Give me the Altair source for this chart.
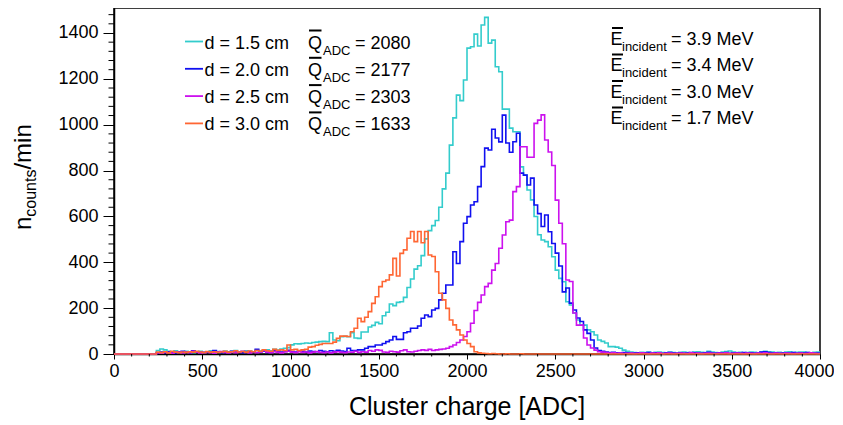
import altair as alt
import pandas as pd

FONT = "Liberation Sans"
X_MAX = 4000
Y_MAX = 1509
BIN = 20

distances = ["1.5", "2.0", "2.5", "3.0"]
q_means = [2080, 2177, 2303, 1633]
energies = ["3.9", "3.4", "3.0", "1.7"]
colors = ["#33CCCC", "#1010F0", "#CC11EE", "#FF6633"]
x_ticks = [0, 500, 1000, 1500, 2000, 2500, 3000, 3500, 4000]
y_ticks = [0, 200, 400, 600, 800, 1000, 1200, 1400]

# counts per 20-ADC bin, bins starting at 0, 20, 40, ... 3980
counts_d15 = [
    0, 0, 0, 0, 0, 0, 0, 0, 0, 0,
    0, 0, 15, 22, 18, 12, 10, 14, 10, 8,
    12, 10, 6, 9, 12, 8, 10, 14, 9, 11,
    8, 13, 10, 12, 15, 9, 11, 14, 12, 10,
    16, 13, 15, 18, 14, 20, 17, 22, 25, 28,
    40, 45, 44, 46, 48, 47, 50, 52, 54, 55,
    54, 93, 61, 58, 75, 77, 75, 93, 70, 68,
    96, 96, 118, 125, 138, 132, 167, 182, 218, 211,
    225, 228, 247, 290, 327, 370, 385, 429, 502, 538,
    560, 582, 640, 720, 789, 911, 1030, 1129, 1105, 1195,
    1334, 1340, 1395, 1343, 1435, 1468, 1356, 1369, 1253, 1231,
    1068, 1068, 985, 969, 969, 816, 780, 715, 672, 600,
    520, 497, 490, 468, 424, 366, 330, 315, 228, 214,
    179, 148, 126, 126, 105, 97, 83, 61, 55, 48,
    32, 32, 30, 25, 17, 12, 8, 6, 5, 7,
    6, 8, 5, 7, 9, 6, 5, 8, 6, 4,
    7, 9, 6, 5, 8, 10, 7, 6, 12, 8,
    6, 5, 9, 11, 13, 8, 6, 7, 5, 6,
    9, 7, 5, 8, 12, 10, 9, 6, 7, 5,
    8, 10, 6, 7, 9, 8, 6, 5, 7, 8,
]
counts_d20 = [
    0, 0, 0, 0, 0, 0, 0, 0, 0, 0,
    0, 0, 5, 8, 6, 10, 7, 5, 9, 12,
    8, 6, 14, 10, 7, 5, 9, 8, 15, 10,
    6, 9, 7, 12, 8, 10, 6, 9, 11, 8,
    20, 10, 12, 7, 9, 14, 10, 8, 12, 16,
    10, 9, 14, 12, 8, 13, 11, 10, 15, 12,
    10, 14, 12, 16, 13, 11, 25, 15, 15, 18,
    18, 25, 32, 32, 39, 39, 46, 54, 61, 76,
    64, 64, 93, 97, 112, 112, 122, 156, 170, 163,
    192, 199, 236, 265, 301, 301, 446, 395, 490, 570,
    599, 650, 664, 730, 817, 898, 890, 980, 942, 925,
    1042, 920, 880, 926, 963, 789, 780, 737, 767, 650,
    612, 556, 606, 533, 482, 440, 384, 271, 288, 222,
    192, 157, 142, 105, 90, 61, 26, 15, 12, 8,
    6, 7, 5, 4, 6, 5, 3, 4, 5, 3,
    4, 6, 3, 5, 4, 2, 5, 6, 4, 3,
    5, 3, 4, 6, 5, 4, 3, 5, 7, 4,
    3, 5, 4, 6, 3, 4, 5, 3, 6, 4,
    5, 3, 4, 8, 10, 6, 4, 5, 3, 4,
    5, 4, 6, 3, 5, 4, 6, 5, 3, 4,
]
counts_d25 = [
    0, 0, 0, 0, 0, 0, 0, 0, 0, 0,
    0, 0, 5, 3, 8, 6, 4, 10, 7, 5,
    9, 6, 12, 8, 5, 7, 10, 6, 4, 8,
    11, 7, 5, 9, 6, 8, 12, 7, 5, 10,
    6, 9, 14, 8, 6, 10, 7, 5, 9, 12,
    8, 6, 10, 7, 9, 5, 8, 11, 7, 6,
    9, 5, 8, 10, 7, 6, 9, 8, 12, 7,
    10, 8, 15, 12, 18, 16, 9, 7, 12, 10,
    8, 14, 18, 10, 9, 12, 15, 18, 16, 20,
    15, 18, 20, 22, 25, 32, 39, 50, 61, 76,
    97, 134, 190, 225, 257, 294, 308, 366, 395, 461,
    519, 577, 584, 708, 730, 904, 904, 858, 858, 1006,
    1020, 1043, 933, 881, 822, 671, 570, 481, 323, 316,
    179, 126, 126, 70, 39, 26, 17, 10, 8, 6,
    4, 5, 3, 4, 2, 3, 4, 2, 3, 5,
    3, 2, 4, 3, 5, 2, 3, 4, 2, 3,
    4, 3, 2, 5, 3, 4, 2, 3, 4, 3,
    2, 4, 3, 5, 2, 3, 4, 3, 2, 4,
    3, 2, 4, 3, 5, 3, 2, 4, 3, 2,
    4, 3, 2, 3, 4, 2, 3, 5, 3, 2,
]
counts_d30 = [
    0, 0, 0, 0, 0, 0, 0, 0, 0, 0,
    0, 0, 8, 6, 10, 5, 12, 8, 6, 9,
    7, 10, 8, 12, 9, 6, 11, 8, 10, 7,
    9, 12, 8, 10, 14, 9, 11, 8, 13, 10,
    15, 12, 18, 14, 12, 20, 16, 18, 15, 39,
    18, 20, 15, 18, 20, 30, 32, 38, 42, 46,
    46, 46, 52, 68, 78, 78, 76, 97, 112, 156,
    141, 160, 185, 221, 250, 294, 316, 323, 345, 417,
    340, 439, 454, 505, 534, 490, 534, 485, 534, 432,
    425, 359, 265, 236, 199, 148, 127, 105, 83, 61,
    46, 32, 10, 5, 3, 2, 1, 2, 1, 0,
    0, 1, 0, 0, 0, 1, 0, 0, 0, 0,
    0, 0, 0, 0, 0, 0, 0, 0, 0, 0,
    0, 0, 0, 0, 0, 0, 0, 0, 0, 0,
    0, 0, 0, 0, 0, 0, 0, 0, 0, 0,
    0, 0, 0, 0, 0, 0, 0, 0, 0, 0,
    0, 0, 0, 0, 0, 0, 0, 0, 0, 0,
    0, 0, 0, 0, 0, 0, 0, 0, 0, 0,
    0, 0, 0, 0, 0, 0, 0, 0, 0, 0,
    0, 0, 0, 0, 0, 0, 0, 0, 0, 0,
]
series_counts = [counts_d15, counts_d20, counts_d25, counts_d30]

rows = []
for label, counts in zip(distances, series_counts):
    for i, c in enumerate(counts):
        rows.append({"d": label, "adc": i * BIN, "n": c})
    rows.append({"d": label, "adc": len(counts) * BIN, "n": counts[-1]})
df = pd.DataFrame(rows)

xs = alt.Scale(domain=[0, X_MAX], nice=False, zero=False)
ys = alt.Scale(domain=[0, Y_MAX], nice=False, zero=False)

common_axis = dict(title=None, grid=False, labelFont=FONT, labelFontSize=18,
                   labelColor="black", domainColor="black", domainWidth=1.5,
                   tickColor="black", tickWidth=1, labelFlush=False,
                   labelOverlap=False, format="d")
x_axis = alt.Axis(
    values=x_ticks, tickSize=5, labelPadding=3,
    labelAlign=alt.condition(alt.datum.value == X_MAX, alt.value("right"), alt.value("center")),
    labelOffset=alt.condition(alt.datum.value == X_MAX, alt.value(14), alt.value(0)),
    **common_axis)
y_axis = alt.Axis(values=y_ticks, tickSize=11, labelPadding=5, **common_axis)

layers = []

# histograms (carry the axes)
for label, color in zip(distances, colors):
    layers.append(
        alt.Chart(df).transform_filter(alt.datum.d == label)
        .mark_line(interpolate="step-after", color=color, strokeWidth=1.6)
        .encode(x=alt.X("adc:Q", scale=xs, axis=x_axis),
                y=alt.Y("n:Q", scale=ys, axis=y_axis))
    )

# minor ticks
y_minor = [v for v in range(0, Y_MAX, 40) if v % 200 != 0]
x_minor = [v for v in range(0, X_MAX + 1, 100) if v % 500 != 0]
layers.append(
    alt.Chart(pd.DataFrame({"n": y_minor})).mark_rule(color="black", strokeWidth=1).encode(
        y=alt.Y("n:Q", scale=ys, axis=y_axis), x=alt.value(0), x2=alt.value(-5.5))
)
layers.append(
    alt.Chart(pd.DataFrame({"adc": x_minor})).mark_rule(color="black", strokeWidth=1).encode(
        x=alt.X("adc:Q", scale=xs, axis=x_axis), y=alt.value(346), y2=alt.value(348.5))
)


def text(x, y, s, size, angle=0, align="left"):
    return alt.Chart(alt.Data(values=[{}])).mark_text(
        text=s, fontSize=size, font=FONT, color="black", align=align,
        baseline="alphabetic", angle=angle).encode(x=alt.value(x), y=alt.value(y))


def rule(x1, x2, y, color="black", width=1.0):
    return alt.Chart(alt.Data(values=[{}])).mark_rule(color=color, strokeWidth=width).encode(
        x=alt.value(x1), x2=alt.value(x2), y=alt.value(y))


# legend (left block)
leg_base = [40.5, 67.8, 95.1, 122.4]
for i in range(4):
    b = leg_base[i]
    layers.append(rule(71, 89, b - 7, colors[i], 1.8))
    layers.append(text(90.5, b, f"d = {distances[i]} cm", 18))
    layers.append(text(194, b, "Q", 18))
    layers.append(rule(195, 207.5, b - 18, "black", 2))
    layers.append(text(209, b + 6, "ADC", 13))
    layers.append(text(241, b, f"= {q_means[i]}", 18))

# incident energies (right block)
en_base = [36.5, 63, 89.5, 116]
for i in range(4):
    b = en_base[i]
    layers.append(text(496.5, b, "E", 18))
    layers.append(rule(498, 509, b - 16.5, "black", 2))
    layers.append(text(508, b + 6, "incident", 13))
    layers.append(text(557, b, f"= {energies[i]} MeV", 18))

# axis titles
layers.append(text(353, 407, "Cluster charge [ADC]", 25, align="center"))
layers.append(text(-83, 222, "n", 24, angle=270))
layers.append(text(-78, 208.7, "counts", 16, angle=270))
layers.append(text(-83, 161.6, "/min", 24, angle=270))

chart = alt.layer(*layers).properties(
    width=706, height=346,
    padding={"left": 106, "top": 0, "right": 14, "bottom": 68},
    autosize=alt.AutoSizeParams(type="none"),
).configure_view(stroke="black", strokeWidth=1.5)

chart.save("out.html", embed_options={"renderer": "svg", "actions": False})
